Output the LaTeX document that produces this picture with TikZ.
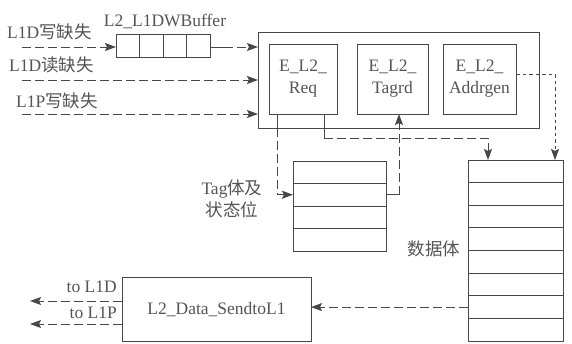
\documentclass[tikz,border=0pt]{standalone}
\usepackage{fontspec}
\setmainfont{Liberation Serif}
\newfontfamily\cjk{Noto Sans CJK SC}
\usetikzlibrary{arrows.meta,calc}
\definecolor{ink}{rgb}{0.28,0.28,0.28}
\definecolor{txt}{rgb}{0.33,0.33,0.33}
\begin{document}
\begin{tikzpicture}[x=1pt,y=-1pt,
  every node/.style={text=txt,font=\rmfamily\fontsize{17.5}{22}\selectfont},
  box/.style={draw=ink,line width=1pt,inner sep=0pt,outer sep=0pt},
  cell/.style 2 args={box,minimum width=#1,minimum height=#2},
  lbl/.style={inner sep=0pt},
  ln/.style={draw=ink,line width=1pt},
  dln/.style={ln,dash pattern=on 9pt off 4pt},
  sdln/.style={ln,dash pattern=on 3.5pt off 3pt},
  arr/.style={-{Stealth[length=11pt,width=8pt,inset=2pt]}}
]
\useasboundingbox (0,0) rectangle (572,343);

% buffer
\foreach \i/\x in {1/127.75,2/151.25,3/174.75,4/198.25}
  \node[box,minimum width=23.5pt,minimum height=23pt] (b\i) at (\x,45.5) {};
\node[lbl] (bufl) at (165,21) {L2\_L1DWBuffer};

% outer block
\node[box,minimum width=281pt,minimum height=96pt] (outer) at (398.5,80) {};
\node[box,minimum width=68pt,minimum height=70pt,align=center] (req) at (303,79) {E\_L2\_\\Req};
\node[box,minimum width=71pt,minimum height=70pt,align=center] (tagrd) at (392.5,79) {E\_L2\_\\Tagrd};
\node[box,minimum width=73pt,minimum height=70pt,align=center] (addr) at (479.5,79) {E\_L2\_\\Addrgen};

% tag array
\foreach \i/\y in {1/172.25,2/194.75,3/217.25,4/239.75}
  \node[cell={93pt}{22.5pt}] (t\i) at (339.5,\y) {};
\node[lbl,align=center] (tagl) at (232,199) {Tag{\cjk 体及}\\{\cjk 状态位}};

% data array
\foreach \i in {1,...,8}
  \node[cell={95pt}{22.625pt}] (d\i) at (515.5,{160+22.625*(\i-0.5)}) {};
\node[lbl] (datal) at (434,249) {\cjk 数据体};

% send block
\node[box,minimum width=189pt,minimum height=64pt] (send) at (216.5,309.5) {};
\node[lbl] at (216.5,310) {L2\_Data\_SendtoL1};

% input labels
\node[lbl,anchor=west] (in1) at (7,32) {L1D{\cjk 写缺失}};
\node[lbl,anchor=west] (in2) at (9,65) {L1D{\cjk 读缺失}};
\node[lbl,anchor=west] (in3) at (16,101) {L1P{\cjk 写缺失}};
\coordinate (s1) at (22,47);
\coordinate (s2) at (22,80);
\coordinate (s3) at (22,114);

% output labels
\node[lbl,anchor=east] (o1) at (117,287) {to L1D};
\node[lbl,anchor=east] (o2) at (117,313) {to L1P};
\coordinate (e1) at (30,301);
\coordinate (e2) at (30,324);

% inputs
\draw[dln,arr] (s1) -- (b1.west |- s1);
\draw[ln] (b4.east |- s1) -- ++(14,0);
\draw[dln,arr] ($(b4.east |- s1)+(14,0)$) -- (outer.west |- s1);
\draw[dln,arr] (s2) -- (outer.west |- s2);
\draw[dln,arr] (s3) -- (outer.west |- s3);

% Req -> tag array
\coordinate (rq1) at ($(req.south west)+(8,0)$);
\draw[ln] (rq1) -- (rq1 |- outer.south);
\draw[dln,arr] (rq1 |- outer.south) |- (t2.west);

% Req -> data array
\coordinate (rq2) at ($(req.south west)+(55,0)$);
\coordinate (rq2b) at ($(rq2)+(0,24)$);
\coordinate (dt1) at ($(d1.north west)+(20,0)$);
\draw[ln] (rq2) -- (rq2b);
\draw[dln,arr] (rq2b) -| (dt1);

% tag array -> Tagrd
\coordinate (tg) at ($(tagrd.south west)+(42,0)$);
\draw[ln] (t2.east) -- (tg |- t2.east);
\draw[dln] (tg |- t2.east) -- (tg |- outer.south);
\draw[ln,arr] (tg |- outer.south) -- (tg);

% Addrgen -> data array
\coordinate (ad) at ($(addr.east)+(0,-5)$);
\coordinate (dt2) at ($(d1.north east)+(-8,0)$);
\draw[sdln,arr] (ad) -| (dt2);

% data -> send
\draw[dln,arr] (d7.west) -- (send.east |- d7.west);

% send -> outputs
\draw[dln,arr] (send.west |- e1) -- (e1);
\draw[dln,arr] (send.west |- e2) -- (e2);
\end{tikzpicture}
\end{document}
